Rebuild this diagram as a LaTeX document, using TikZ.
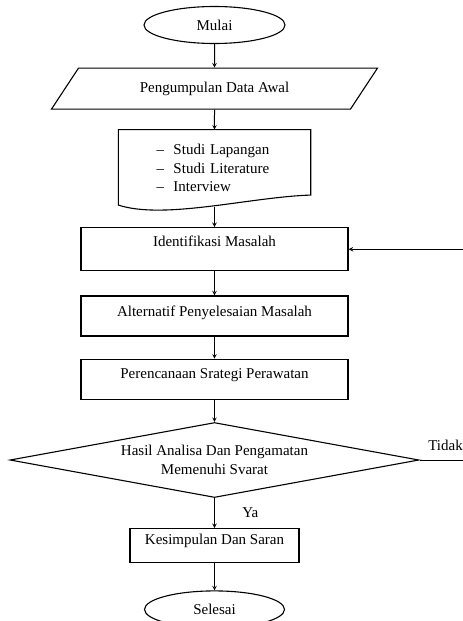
\documentclass[tikz,border=0pt]{standalone}
\usepackage{fontspec}
\setmainfont{Liberation Serif}
\usetikzlibrary{shapes.geometric, arrows, positioning}

\newcommand{\butir}[1]{\hspace*{38pt}\makebox[17pt][l]{--}#1}

\begin{document}
\begin{tikzpicture}[x=1pt,y=1pt,node distance=20pt,
        every node/.style={font=\fontsize{15}{18.5}\selectfont},
        terminal/.style={draw,ellipse,line width=1.1pt,minimum width=141pt,minimum height=37pt,inner sep=0pt},
        dataio/.style={draw,trapezium,trapezium left angle=26.8,trapezium right angle=153.2,
            trapezium stretches body,line width=1.1pt,minimum width=326pt,minimum height=41pt,inner sep=0pt},
        dokumen/.style={rectangle,minimum width=192pt,text width=192pt,minimum height=77pt,inner sep=0pt,align=left},
        proses/.style={draw,rectangle,line width=1.3pt,minimum width=267pt,inner sep=0pt},
        keputusan/.style={draw,diamond,aspect=5.45,line width=1.1pt,minimum width=409pt,minimum height=75pt,
            inner sep=0pt,align=center},
        panah/.style={line width=1pt,->,>=stealth}]
        \useasboundingbox (0,0) rectangle (463,-621);
        \node[terminal] (mulai) at (214.5,-25) {Mulai};
        \node[dataio, below=23.5pt of mulai] (data) {Pengumpulan Data Awal};
        \node[dokumen, below=20pt of data] (doc)
        {\butir{Studi Lapangan}\\ \butir{Studi Literature}\\ \butir{Interview}};
        \draw[line width=1.1pt] (doc.north west) -- (doc.north east) -- ([yshift=12pt]doc.south east)
        .. controls ([xshift=-61pt,yshift=10pt]doc.south east) and ([xshift=46pt,yshift=-13pt]doc.south west)
        .. ([yshift=2pt]doc.south west) -- cycle;
        \node[proses, below=20pt of doc, text height=19pt, text depth=24pt] (ident) {Identifikasi Masalah};
        \node[proses, below=24pt of ident, text height=20pt, text depth=20pt] (alt) {Alternatif Penyelesaian Masalah};
        \node[proses, below=22pt of alt, text height=19pt, text depth=21pt] (rencana) {Perencanaan Srategi Perawatan};
        \node[keputusan, below=22pt of rencana] (hasil) {Hasil Analisa Dan Pengamatan\\Memenuhi Svarat};
        \node[proses, below=30pt of hasil, minimum width=169pt, text height=16pt, text depth=18pt] (simpul)
        {Kesimpulan Dan Saran};
        \node[terminal, below=27pt of simpul, minimum width=140pt] (selesai) {Selesai};
        \coordinate[right=50pt of hasil.east] (ujung);

        \draw[panah] (mulai) -- (data);
        \draw[panah] (data) -- (doc);
        \draw[panah] (doc) -- (ident);
        \draw[panah] (ident) -- (alt);
        \draw[panah] (alt) -- (rencana);
        \draw[panah] (rencana) -- (hasil);
        \draw[panah] (hasil) -- node[right=24pt] {Ya} (simpul);
        \draw[panah] (simpul) -- (selesai);
        \draw[panah] (hasil.east) -- node[above=6pt, pos=0.52] {Tidak} (ujung) |- (ident.east);
\end{tikzpicture}
\end{document}
